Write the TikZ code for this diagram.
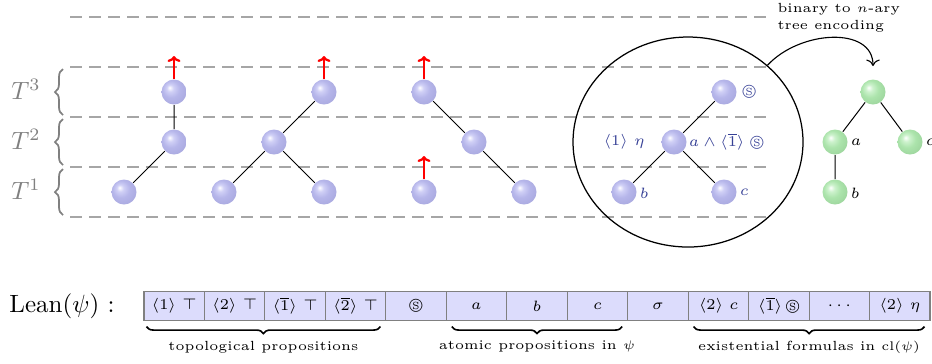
\documentclass[tikz,border=0pt]{standalone}
\usepackage{amssymb}
\usetikzlibrary{shapes.geometric,decorations.pathreplacing,arrows.meta}
\definecolor{lbl}{RGB}{55,65,150}
\definecolor{cellfill}{RGB}{220,220,252}
\definecolor{bb1}{RGB}{208,208,246}
\definecolor{bb2}{RGB}{182,182,234}
\definecolor{bb3}{RGB}{170,170,224}
\definecolor{bb4}{RGB}{160,160,214}
\definecolor{gb1}{RGB}{205,242,205}
\definecolor{gb2}{RGB}{172,228,172}
\definecolor{gb3}{RGB}{158,214,158}
\definecolor{gb4}{RGB}{148,204,148}
\pgfdeclareradialshading{ballblue}{\pgfpoint{-9bp}{9bp}}{color(0bp)=(white); color(7bp)=(bb1); color(17bp)=(bb2); color(30bp)=(bb3); color(50bp)=(bb4)}
\pgfdeclareradialshading{ballgreen}{\pgfpoint{-9bp}{9bp}}{color(0bp)=(white); color(7bp)=(gb1); color(17bp)=(gb2); color(30bp)=(gb3); color(50bp)=(gb4)}
\newcommand{\smallfnt}{\fontsize{5.3}{6.3}\selectfont}
\newcommand{\labfnt}{\fontsize{6}{7}\selectfont}
\newcommand{\cellfnt}{\fontsize{6}{7}\selectfont}
\begin{document}
\begin{tikzpicture}[x=0.4pt,y=-0.4pt,
  ballb/.style={circle,shade,shading=ballblue,minimum size=10pt,inner sep=0pt},
  ballg/.style={circle,shade,shading=ballgreen,minimum size=10pt,inner sep=0pt},
  lvl/.style={gray!70,line width=0.7pt,dash pattern=on 4.8pt off 2.8pt},
  edge/.style={line width=0.4pt},
  redarr/.style={red,line width=0.9pt,-{To[length=2.4pt,width=5.2pt]}},
  tbrace/.style={gray,line width=0.7pt,decorate,decoration={brace,amplitude=3.2pt}},
  bbrace/.style={line width=0.65pt,decorate,decoration={brace,mirror,amplitude=2.8pt}},
  cell/.style={draw=gray,fill=cellfill,minimum width=24.18pt,minimum height=11.6pt,inner sep=0pt,font=\cellfnt,line width=0.45pt},
  lab/.style={font=\labfnt,text=lbl,inner sep=1pt},
  glab/.style={font=\labfnt,inner sep=1pt},
  tlab/.style={text=gray,inner sep=0pt},
]
\useasboundingbox (0,0) rectangle (932,363);

% level lines
\foreach \yy in {17,67,117,167,217} \draw[lvl] (70,\yy) -- (770,\yy);

% level labels and braces
\node[tlab] (T3) at (26,89) {$T^3$};
\node[tlab] (T2) at (26,139) {$T^2$};
\node[tlab] (T1) at (26,189) {$T^1$};
\draw[tbrace] (63,115) -- (63,69);
\draw[tbrace] (63,165) -- (63,119);
\draw[tbrace] (63,215) -- (63,169);

% tree 1
\node[ballb] (a1) at (174,92) {};
\node[ballb] (a2) at (174,142) {};
\node[ballb] (a3) at (124,192) {};
\draw[edge] (a1) -- (a2) (a2) -- (a3);
% tree 2
\node[ballb] (b1) at (324,92) {};
\node[ballb] (b2) at (274,142) {};
\node[ballb] (b3) at (224,192) {};
\node[ballb] (b4) at (324,192) {};
\draw[edge] (b1) -- (b2) (b2) -- (b3) (b2) -- (b4);
% tree 3
\node[ballb] (c1) at (424,92) {};
\node[ballb] (c2) at (474,142) {};
\node[ballb] (c3) at (524,192) {};
\node[ballb] (c4) at (424,192) {};
\draw[edge] (c1) -- (c2) (c2) -- (c3);

% red arrows
\coordinate (ra1) at (174,56);
\coordinate (ra2) at (324,56);
\coordinate (ra3) at (424,56);
\coordinate (ra4) at (424,156);
\draw[redarr] (a1.north) -- (ra1);
\draw[redarr] (b1.north) -- (ra2);
\draw[redarr] (c1.north) -- (ra3);
\draw[redarr] (c4.north) -- (ra4);

% encircled tree
\node[ellipse,draw,line width=0.5pt,minimum width=92pt,minimum height=84pt,inner sep=0pt] (circ) at (688,142) {};
\node[ballb] (d1) at (724,92) {};
\node[ballb] (d2) at (674,142) {};
\node[ballb] (d3) at (624,192) {};
\node[ballb] (d4) at (724,192) {};
\draw[edge] (d1) -- (d2) (d2) -- (d3) (d2) -- (d4);
\node[lab,anchor=west] (ld1) at (739,92) {$\circledS$};
\node[lab] (ld2a) at (624,142) {$\langle 1\rangle\ \eta$};
\node[lab,anchor=west] (ld2b) at (686,142) {$a\wedge\langle\overline{1}\rangle\;\circledS$};
\node[lab,anchor=west] (ld3) at (637,193) {$b$};
\node[lab,anchor=west] (ld4) at (737,192) {$c$};

% green tree
\node[ballg] (g1) at (873,92) {};
\node[ballg] (g2) at (835,142) {};
\node[ballg] (g3) at (910,142) {};
\node[ballg] (g4) at (835,192) {};
\draw[edge] (g1) -- (g2) (g1) -- (g3) (g2) -- (g4);
\node[glab,anchor=west] (lg2) at (848,142) {$a$};
\node[glab,anchor=west] (lg3) at (923,142) {$c$};
\node[glab,anchor=west] (lg4) at (848,193) {$b$};

% encoding arrow
\coordinate (arrend) at (873,66);
\draw[->,line width=0.45pt] (circ.44) .. controls (800,30) and (873,26) .. (arrend);
\node[anchor=north west,font=\smallfnt,align=left,inner sep=0pt] (enc) at (777,3) {binary to $n$-ary\\[0.5pt]tree encoding};

% Lean table
\node (lean) at (62,306) {Lean$(\psi)$ :};
\foreach [count=\i] \t in {{$\langle 1\rangle\ \top$},{$\langle 2\rangle\ \top$},{$\langle\overline{1}\rangle\ \top$},{$\langle\overline{2}\rangle\ \top$},{$\circledS$},{$a$},{$b$},{$c$},{$\sigma$},{$\langle 2\rangle\ c$},{$\langle\overline{1}\rangle\,\circledS$},{$\cdots$},{$\langle 2\rangle\ \eta$}}
  \node[cell] (t\i) at ({144+60.46*(\i-0.5)},306) {\t};

\draw[bbrace] ([xshift=1.2pt,yshift=-2.2pt]t1.south west) -- ([xshift=-2.4pt,yshift=-2.2pt]t4.south east)
  node[midway,below=5.4pt,font=\smallfnt,inner sep=0pt] (bl1) {topological propositions};
\draw[bbrace] ([xshift=2.4pt,yshift=-2.2pt]t6.south west) -- ([xshift=-2.4pt,yshift=-2.2pt]t8.south east)
  node[midway,below=5.4pt,font=\smallfnt,inner sep=0pt] (bl2) {atomic propositions in $\psi$};
\draw[bbrace] ([xshift=2.4pt,yshift=-2.2pt]t10.south west) -- ([xshift=-2.4pt,yshift=-2.2pt]t13.south east)
  node[midway,below=5.4pt,font=\smallfnt,inner sep=0pt] (bl3) {existential formulas in $\mathrm{cl}(\psi)$};
\end{tikzpicture}
\end{document}
